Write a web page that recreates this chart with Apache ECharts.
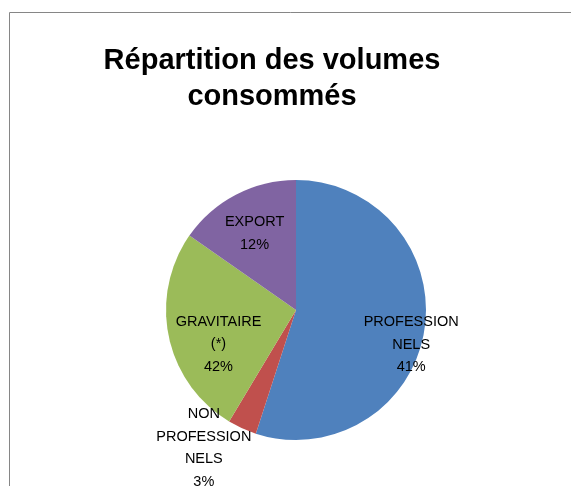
<!DOCTYPE html>
<html>
<head>
<meta charset="utf-8">
<script src="https://cdn.jsdelivr.net/npm/echarts@6/dist/echarts.min.js"></script>
<style>
  html, body { margin: 0; padding: 0; background: #fff; }
  #chart { width: 571px; height: 486px; }
</style>
</head>
<body>
<div id="chart"></div>
<script>
// slice names as printed in the chart (line breaks as in the picture)
const categories = ['PROFESSION\nNELS', 'NON\nPROFESSION\nNELS', 'GRAVITAIRE\n(*)', 'EXPORT'];
// slice sizes
const values = [55.0, 3.6, 26.1, 15.3];
// percentages printed in the labels
const labelPercents = ['41%', '3%', '42%', '12%'];

const colors = ['#4F81BD', '#C0504D', '#9BBB59', '#8064A2'];
// nudge labels to where Excel put them
const labelOffsets = [[48, 24], [-64, 76], [-11, 20], [-10, -16]];

let chart = echarts.init(document.getElementById('chart'));
let option = {
    animation: false,
    title: {
        text: 'Répartition des volumes\nconsommés',
        left: 267,
        textAlign: 'center',
        top: 38,
        textStyle: {
            fontFamily: 'Liberation Sans',
            fontWeight: 'bold',
            fontSize: 29,
            lineHeight: 36,
            color: '#000'
        }
    },
    graphic: [{
        type: 'polyline',
        shape: { points: [[9.5, 486], [9.5, 12.5], [571, 12.5]] },
        style: { stroke: '#868686', lineWidth: 1, fill: null }
    }],
    series: [{
        type: 'pie',
        center: [296, 310],
        radius: 130,
        startAngle: 90,
        clockwise: true,
        color: colors,
        itemStyle: { borderWidth: 0 },
        label: {
            show: true,
            position: 'inside',
            fontFamily: 'Liberation Sans',
            fontSize: 14.5,
            lineHeight: 22.5,
            color: '#000',
            align: 'center',
            formatter: p => p.name + '\n' + labelPercents[p.dataIndex]
        },
        labelLine: { show: false },
        emphasis: { disabled: true },
        data: categories.map((c, i) => ({
            name: c,
            value: values[i],
            label: { offset: labelOffsets[i] }
        }))
    }]
};
chart.setOption(option);
</script>
</body>
</html>
